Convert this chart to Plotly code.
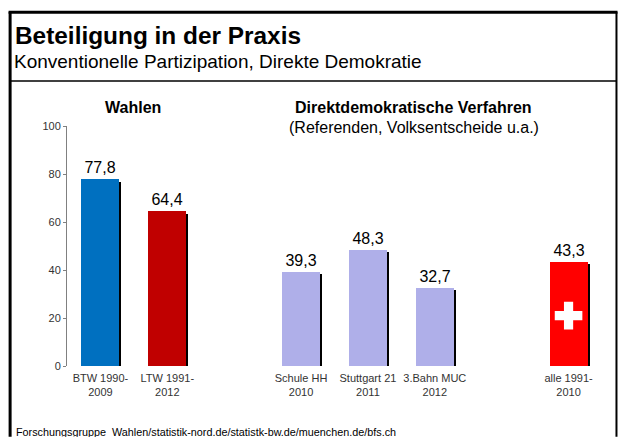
import plotly.graph_objects as go

W, H = 618, 437
L, R, T, B = 66.5, 15.5, 125.5, 71

categories = ["BTW 1990-<br>2009", "LTW 1991-<br>2012", " ",
              "Schule HH<br>2010", "Stuttgart 21<br>2011", "3.Bahn MUC<br>2012", "  ",
              "alle 1991-<br>2010"]
values = [77.8, 64.4, None, 39.3, 48.3, 32.7, None, 43.3]
colors = ["#0070C0", "#C00000", "#FFFFFF", "#AFAFE9", "#AFAFE9", "#AFAFE9", "#FFFFFF", "#FF0000"]
y_ticks = [0, 20, 40, 60, 80, 100]
labels = [None if v is None else f"{v:.1f}".replace(".", ",") for v in values]


def px(x):
    return (x - L) / (W - L - R)


def py(y):
    return 1 - (y - T) / (H - T - B)


BAR_W = 38 / 67
fig = go.Figure()
fig.add_bar(x=categories, y=values, base=-1, width=BAR_W, offset=-BAR_W / 2 + 2 / 67,
            marker=dict(color="#000000", line_width=0), hoverinfo="skip", cliponaxis=False, showlegend=False)
fig.add_bar(x=categories, y=values, width=BAR_W, offset=-BAR_W / 2,
            marker=dict(color=colors, line_width=0), text=labels, textposition="outside",
            textfont=dict(size=16, color="#000000", family="Liberation Sans"), cliponaxis=False, showlegend=False)
fig.add_scatter(x=[categories[7]], y=[21], mode="markers", showlegend=False,
                marker=dict(symbol="cross", size=23, color="#FFFFFF", line_width=0))

frame = [
    (9.5, 11, 9.5, 437, 3), (8, 11.5, 618, 11.5, 3), (617, 11, 617, 437, 2), (10, 80.5, 617, 80.5, 1.5),
]
shapes = [dict(type="line", xref="paper", yref="paper", x0=px(a), y0=py(b), x1=px(c), y1=py(d),
               line=dict(color="#000000", width=w)) for a, b, c, d, w in frame]


def note(text, x, y, size, anchor="left", bold=False):
    return dict(text=f"<b>{text}</b>" if bold else text, xref="paper", yref="paper", x=px(x), y=py(y),
                xanchor=anchor, yanchor="middle", showarrow=False, align=anchor,
                font=dict(size=size, color="#000000", family="Liberation Sans"))


annotations = [
    note("Beteiligung in der Praxis", 12, 35, 24.4, bold=True),
    note("Konventionelle Partizipation, Direkte Demokratie", 11, 60.5, 19),
    note("Wahlen", 133, 107, 16, "center", True),
    note("Direktdemokratische Verfahren", 414, 107, 16, "center", True),
    note("(Referenden, Volksentscheide u.a.)", 414, 127, 16, "center"),
    note("Forschungsgruppe  Wahlen/statistik-nord.de/statistk-bw.de/muenchen.de/bfs.ch", 13, 432, 10.8),
]

fig.update_layout(
    width=W, height=H, autosize=False, margin=dict(l=L, r=R, t=T, b=B),
    paper_bgcolor="#FFFFFF", plot_bgcolor="#FFFFFF", barmode="overlay", bargap=0,
    font=dict(family="Liberation Sans", size=11, color="#333333"),
    shapes=shapes, annotations=annotations,
    xaxis=dict(type="category", categoryorder="array", categoryarray=categories, range=[-0.5, 7.5],
               tickvals=[c for c in categories if c.strip()], showgrid=False, showline=False, ticks="",
               zeroline=False, tickangle=0, ticklabelstandoff=4, tickfont=dict(size=11, color="#333333")),
    yaxis=dict(range=[0, 100], tickvals=y_ticks, showgrid=False, zeroline=False, showline=True,
               linecolor="#808080", linewidth=1, ticks="outside", ticklen=3, tickcolor="#808080",
               tickfont=dict(size=11, color="#333333")),
)
fig.write_html("out.html", config={"displayModeBar": False},
               post_script="document.body.style.margin='0';")
